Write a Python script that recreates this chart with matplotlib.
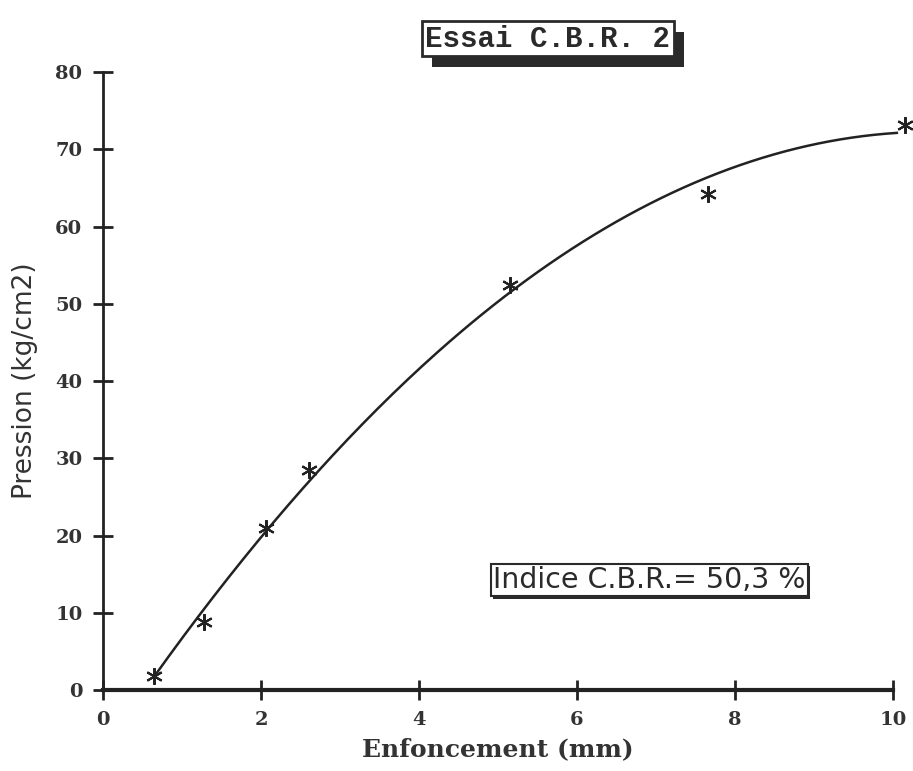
import numpy as np
import matplotlib.pyplot as plt
import matplotlib.patheffects as pe

# essai CBR - points mesures
enfoncement = [0.64, 1.28, 2.06, 2.61, 5.15, 7.66, 10.15]
pression = [1.8, 8.8, 21.0, 28.5, 52.4, 64.2, 73.1]
xticks = [0, 2, 4, 6, 8, 10]
yticks = [0, 10, 20, 30, 40, 50, 60, 70, 80]
titre = "Essai C.B.R. 2"
indice = "Indice C.B.R.= 50,3 %"

fig = plt.figure(figsize=(9.13, 7.71), dpi=100)
ax = fig.add_axes([0.113, 0.105, 0.865, 0.8016])

# courbe lissee (ajustement polynomial)
coef = np.polyfit(enfoncement, pression, 2)
xc = np.linspace(enfoncement[0], 10.05, 200)
ax.plot(xc, np.polyval(coef, xc), color='#222222', lw=1.8, clip_on=False)
ax.plot(enfoncement, pression, ls='none', marker=(6, 2, 0), ms=12, mew=1.5,
        color='#222222', clip_on=False)

ax.set_xlim(0, 10)
ax.set_ylim(0, 80)
ax.set_xticks(xticks)
ax.set_yticks(yticks)
for s in ['top', 'right']:
    ax.spines[s].set_visible(False)
ax.spines['left'].set_linewidth(2)
ax.spines['bottom'].set_linewidth(3)
ax.spines['left'].set_color('#222222')
ax.spines['bottom'].set_color('#222222')
ax.tick_params(direction='inout', length=14, width=2, color='#222222',
               labelsize=14, pad=8)
for lab in ax.get_xticklabels() + ax.get_yticklabels():
    lab.set_fontfamily('DejaVu Serif')
    lab.set_fontweight('bold')
    lab.set_color('#333333')

ax.set_xlabel("Enfoncement (mm)", fontsize=18, fontweight='bold',
              family='DejaVu Serif', color='#333333', labelpad=6)
ax.set_ylabel("Pression (kg/cm2)", fontsize=19, fontweight='medium',
              family='DejaVu Sans', color='#333333', labelpad=12)

ombre = '#2a2a2a'

# titre encadre avec ombre
t = fig.text(0.600, 0.950, titre, ha='center', va='center',
             fontsize=21, family='Liberation Mono', fontweight='bold', color=ombre,
             bbox=dict(boxstyle='square,pad=0.12', fc='white', ec=ombre, lw=2))
t.get_bbox_patch().set_path_effects([
    pe.SimplePatchShadow(offset=(7, -8), shadow_rgbFace=ombre, alpha=1),
    pe.Normal()])

# indice CBR
t2 = fig.text(0.711, 0.248, indice, ha='center', va='center',
              fontsize=20.5, family='DejaVu Sans', color=ombre,
              bbox=dict(boxstyle='square,pad=0.08', fc='white', ec=ombre, lw=1.5))
t2.get_bbox_patch().set_path_effects([
    pe.SimplePatchShadow(offset=(2, -2), shadow_rgbFace=ombre, alpha=1),
    pe.Normal()])

fig.savefig('out.png', dpi=100)
